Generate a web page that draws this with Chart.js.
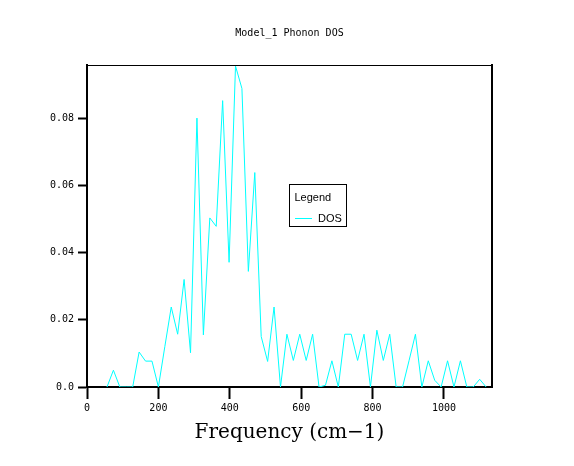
<!DOCTYPE html>
<html>
<head>
<meta charset="utf-8">
<title>Model_1 Phonon DOS</title>
<script src="https://cdn.jsdelivr.net/npm/chart.js@4.4.0/dist/chart.umd.min.js"></script>
<style>
  html, body { margin: 0; padding: 0; background: #fff; }
  #wrap { width: 574px; height: 466px; }
</style>
</head>
<body>
<div id="wrap"><canvas id="dos"></canvas></div>
<script>
// --- data (frequency in cm-1, DOS in arbitrary units) ---
const FREQ = [56, 74, 92, 110, 128, 146, 164, 182, 200, 218,
  236, 254, 272, 290, 308, 326, 344, 362, 380, 398,
  416, 434, 452, 470, 488, 506, 524, 542, 560, 578,
  596, 614, 632, 650, 668, 686, 704, 722, 740, 758,
  776, 794, 812, 830, 848, 866, 884, 902, 920, 938,
  956, 974, 992, 1010, 1028, 1046, 1064, 1082, 1100, 1118];
const DOS = [0, 0.005, 0, 0, 0, 0.0104, 0.0077, 0.0077, 0, 0.012,
  0.0238, 0.0157, 0.032, 0.0102, 0.080, 0.0155, 0.0503, 0.0478, 0.0852, 0.0371,
  0.0955, 0.0888, 0.0344, 0.0638, 0.015, 0.0076, 0.0238, 0, 0.0157, 0.0079,
  0.0157, 0.0079, 0.0157, 0, 0.0005, 0.0078, 0, 0.0157, 0.0157, 0.0079,
  0.0157, 0, 0.0169, 0.0079, 0.0157, 0, 0, 0.0078, 0.0157, 0,
  0.0078, 0.002, 0, 0.0078, 0, 0.0078, 0, 0, 0.0023, 0];

const X_TICKS = [0, 200, 400, 600, 800, 1000];
const X_LABELS = ['0', '200', '400', '600', '800', '1000'];
const Y_TICKS = [0, 0.02, 0.04, 0.06, 0.08];
const Y_LABELS = ['0.0', '0.02', '0.04', '0.06', '0.08'];

const TITLE = 'Model_1 Phonon DOS';
const X_TITLE = 'Frequency (cm\u22121)';
const SERIES = 'DOS';
const CYAN = '#00ffff';
const MONO = 'DejaVu Sans Mono';

/* legend drawn as a small framed box inside the plot */
const legendBox = {
  id: 'legendBox',
  afterDraw(chart) {
    const { ctx, chartArea: a } = chart;
    const x = a.left + 202, y = a.top + 119;
    ctx.save();
    ctx.strokeStyle = '#000';
    ctx.lineWidth = 1;
    ctx.strokeRect(x + 0.5, y + 0.5, 57, 42);
    ctx.fillStyle = '#000';
    ctx.textBaseline = 'middle';
    ctx.font = '11px "Liberation Sans"';
    ctx.fillText('Legend', x + 5.5, y + 14);
    ctx.strokeStyle = CYAN;
    ctx.beginPath();
    ctx.moveTo(x + 6, y + 34.5);
    ctx.lineTo(x + 23, y + 34.5);
    ctx.stroke();
    ctx.fillText(SERIES, x + 29, y + 35);
    ctx.restore();
  }
};

const tickFont = { family: MONO, size: 10 };

new Chart(document.getElementById('dos'), {
  type: 'line',
  data: {
    datasets: [{
      label: SERIES,
      data: FREQ.map((f, i) => ({ x: f, y: DOS[i] })),
      borderColor: CYAN,
      borderWidth: 1,
      pointRadius: 0,
      tension: 0,
      fill: false
    }]
  },
  options: {
    responsive: true,
    maintainAspectRatio: false,
    animation: false,
    layout: { padding: 0 },
    plugins: { legend: { display: false }, tooltip: { enabled: false } },
    scales: {
      x: {
        type: 'linear', position: 'bottom', min: 0, max: 1134.5, z: 1,
        border: { display: true, color: '#000', width: 2 },
        grid: { drawOnChartArea: false, tickLength: 12, tickWidth: 2, tickColor: '#000' },
        ticks: { font: tickFont, color: '#000', padding: 3, maxRotation: 0, autoSkip: false,
                 callback: (v) => X_LABELS[X_TICKS.indexOf(v)] },
        afterBuildTicks: (s) => { s.ticks = X_TICKS.map(v => ({ value: v })); },
        title: { display: true, text: X_TITLE, color: '#000',
                 font: { family: 'DejaVu Serif', size: 20 }, padding: { top: 0, bottom: 21 } },
        afterFit: (s) => { s.height = 79; }
      },
      y: {
        type: 'linear', position: 'left', min: 0, max: 0.0958, z: 1,
        border: { display: true, color: '#000', width: 2 },
        grid: { drawOnChartArea: false, tickLength: 9, tickWidth: 2, tickColor: '#000' },
        ticks: { font: tickFont, color: '#000', padding: 4,
                 callback: (v) => Y_LABELS[Y_TICKS.indexOf(v)] },
        afterBuildTicks: (s) => { s.ticks = Y_TICKS.map(v => ({ value: v })); },
        afterFit: (s) => { s.width = 87; }
      },
      // top and right frame lines; the top one carries the chart title
      x2: {
        type: 'linear', position: 'top', min: 0, max: 1,
        border: { display: true, color: '#000', width: 1 },
        grid: { drawOnChartArea: false, drawTicks: false },
        ticks: { display: false },
        title: { display: true, text: TITLE, color: '#000',
                 font: { family: MONO, size: 10 }, padding: { top: 27, bottom: 0 } },
        afterFit: (s) => { s.height = 65; }
      },
      y2: {
        type: 'linear', position: 'right', min: 0, max: 1,
        border: { display: true, color: '#000', width: 2 },
        grid: { drawOnChartArea: false, drawTicks: false },
        ticks: { display: false },
        afterFit: (s) => { s.width = 82; }
      }
    }
  },
  plugins: [legendBox]
});
</script>
</body>
</html>
